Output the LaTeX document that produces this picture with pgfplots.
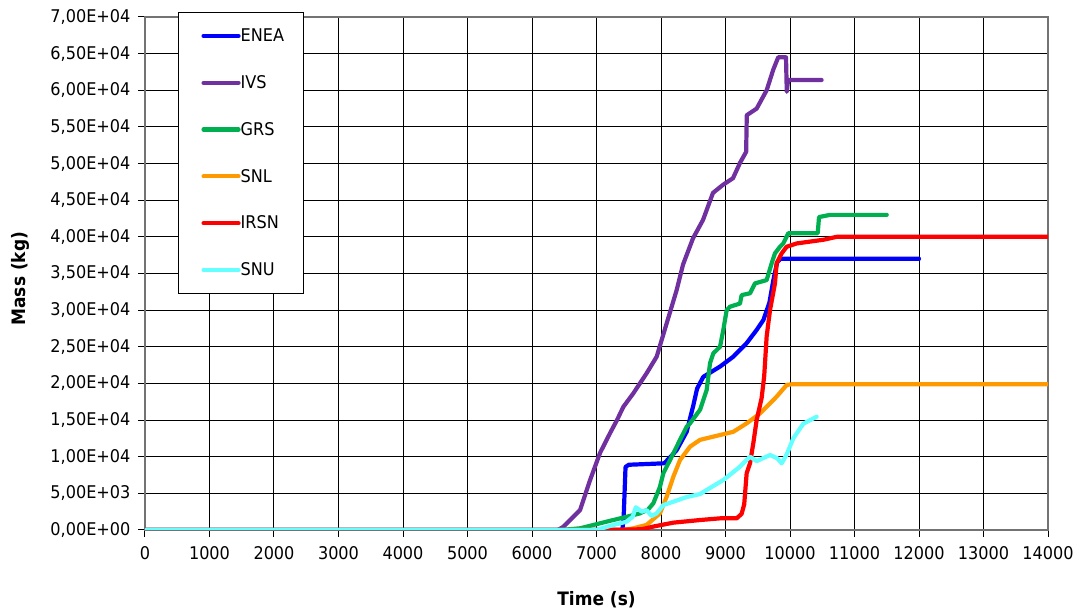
\documentclass[border=0pt]{standalone}
\usepackage{pgfplots}
\pgfplotsset{compat=1.18}
\usepackage{fontspec}
\setmainfont{DejaVu Sans}[FakeStretch=0.92]
\definecolor{cENEA}{RGB}{0,0,255}
\definecolor{cIVS}{RGB}{112,48,160}
\definecolor{cGRS}{RGB}{0,176,80}
\definecolor{cSNL}{RGB}{255,153,0}
\definecolor{cIRSN}{RGB}{255,0,0}
\definecolor{cSNU}{RGB}{102,255,255}
\newcommand{\tickfont}{\fontsize{17.5bp}{20bp}\selectfont}
\newcommand{\labfont}{\fontsize{18.5bp}{21bp}\selectfont\bfseries}
\begin{document}
\begin{tikzpicture}
\begin{axis}[
  name=ax,
  scale only axis, width=903bp, height=513bp,
  xmin=0, xmax=14000, ymin=0, ymax=70000,
  xtick={0,1000,...,14000},
  xticklabels={0,1000,2000,3000,4000,5000,6000,7000,8000,9000,10000,11000,12000,13000,14000},
  ytick={0,5000,...,70000},
  yticklabels={{0,00E+00},{5,00E+03},{1,00E+04},{1,50E+04},{2,00E+04},{2,50E+04},{3,00E+04},{3,50E+04},{4,00E+04},{4,50E+04},{5,00E+04},{5,50E+04},{6,00E+04},{6,50E+04},{7,00E+04}},
  scaled ticks=false,
  tick pos=left, tick align=outside, major tick length=7bp,
  tick style={black, line width=1bp},
  axis line style={black!55, line width=1.2bp},
  grid=major, major grid style={black, line width=1bp},
  ticklabel style={font=\tickfont},
  yticklabel style={xshift=-4bp},
  xticklabel style={yshift=-6bp},
  xlabel={Time (s)}, ylabel={Mass (kg)},
  xlabel style={font=\labfont, at={(axis description cs:0.5,-0.1365)}, anchor=center},
  ylabel style={font=\labfont, at={(axis description cs:-0.1375,0.49)}, anchor=center},
  every axis plot/.append style={line width=4.2bp, line join=round, line cap=round},
  legend cell align=left,
  legend style={at={(0.0365,1.00975)}, anchor=north west, draw=black, line width=1.2bp, fill=white,
    inner xsep=0pt, inner ysep=0pt, row sep=0pt, column sep=0pt,
    nodes={inner sep=0pt, minimum height=46.8bp, text width=63bp, font=\tickfont}},
  legend image code/.code={\path[draw=none,fill=none] (-25bp,0) -- (37bp,0); \draw[#1] (0bp,0) -- (35bp,0);},
]
\addplot[cENEA] coordinates {(0,0)(7400,0)(7420,1500)(7450,8600)(7500,8900)(8050,9100)(8150,10000)(8243,10900)(8398,13400)(8501,17000)(8560,19300)(8656,20900)(8915,22300)(9121,23650)(9328,25500)(9483,27300)(9587,28650)(9680,31000)(9742,34100)(9800,36500)(9850,37000)(12000,37000)};
\addlegendentry{ENEA}
\addplot[cIVS] coordinates {(0,0)(6400,0)(6480,400)(6744,2700)(6900,6800)(7054,10500)(7209,13200)(7318,15000)(7416,16800)(7571,18650)(7778,21400)(7933,23650)(8088,28200)(8243,32750)(8341,36200)(8496,39800)(8651,42300)(8806,46000)(8961,47100)(9116,48000)(9225,50100)(9320,51600)(9330,56600)(9483,57500)(9638,60000)(9740,62800)(9817,64500)(9938,64500)(9950,59800)(9970,61400)(10490,61400)};
\addlegendentry{IVS}
\addplot[cGRS] coordinates {(0,0)(6450,0)(6744,230)(7157,1140)(7467,1800)(7674,2270)(7800,2800)(7881,3640)(7984,5900)(8036,7730)(8140,9550)(8295,12300)(8398,14100)(8450,14550)(8605,16400)(8708,19100)(8760,22750)(8811,24100)(8915,25000)(8966,27300)(9018,30000)(9070,30470)(9225,30900)(9250,32050)(9380,32300)(9457,33650)(9638,34100)(9716,36400)(9767,37750)(9845,38650)(9896,39100)(9974,40500)(10430,40500)(10450,42700)(10620,43000)(11500,43000)};
\addlegendentry{GRS}
\addplot[cSNL] coordinates {(0,0)(7450,0)(7571,230)(7778,700)(7984,2270)(8088,4550)(8191,7270)(8295,9550)(8450,11370)(8605,12300)(8915,12960)(9121,13400)(9328,14550)(9535,15900)(9793,18200)(9950,19800)(10050,19900)(14000,19900)};
\addlegendentry{SNL}
\addplot[cIRSN] coordinates {(0,0)(7100,0)(7700,100)(7900,500)(8191,1000)(8605,1360)(8915,1590)(9173,1590)(9250,2200)(9290,3500)(9328,7730)(9380,9100)(9431,11830)(9483,15000)(9560,18000)(9600,21000)(9638,26400)(9690,30000)(9767,33650)(9793,36400)(9871,37750)(9948,38650)(10103,39100)(10516,39600)(10723,40000)(14000,40000)};
\addlegendentry{IRSN}
\addplot[cSNU] coordinates {(0,0)(7000,0)(7261,680)(7467,1140)(7560,1800)(7610,3100)(7700,2500)(7778,2700)(7855,1900)(7933,2270)(8036,3400)(8191,3860)(8398,4500)(8605,4900)(8708,5460)(8966,6820)(9225,8640)(9380,10000)(9483,9400)(9690,10230)(9800,9800)(9871,9100)(9948,10300)(10051,12500)(10206,14500)(10413,15460)};
\addlegendentry{SNU}
\end{axis}
\pgfresetboundingbox
\path ([shift={(-145bp,-83bp)}]ax.south west) rectangle ([shift={(34bp,17bp)}]ax.north east);
\end{tikzpicture}
\end{document}
